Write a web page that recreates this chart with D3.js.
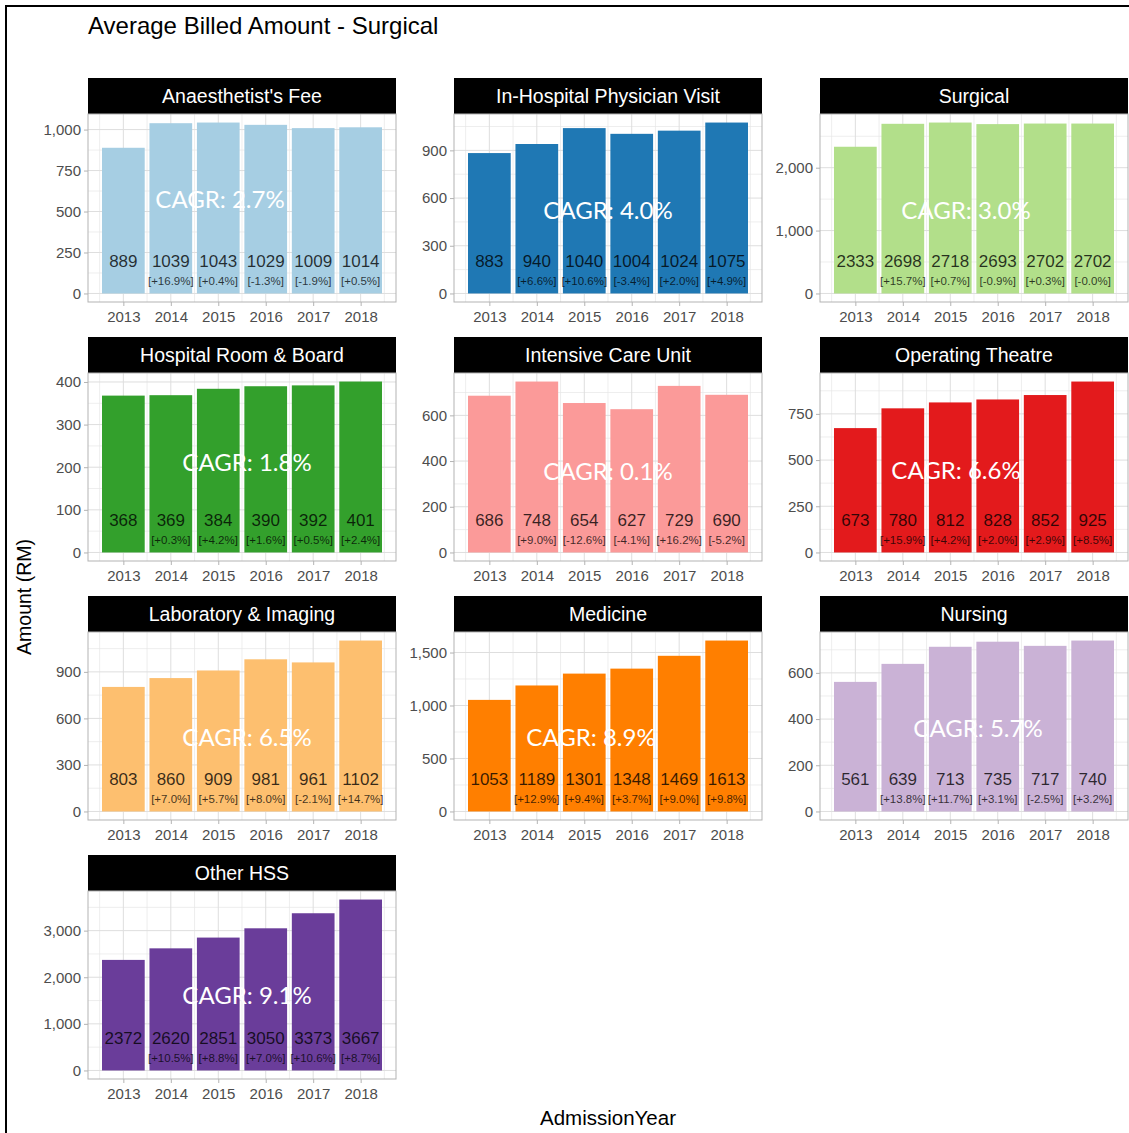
<!DOCTYPE html>
<html>
<head>
<meta charset="utf-8">
<script src="https://cdn.jsdelivr.net/npm/d3@7"></script>
<style>
  body { margin: 0; background: #fff; }
  text { font-family: "Liberation Sans", Arial, sans-serif; }
  text.cagr { font-family: Lato, "Open Sans", sans-serif; }
</style>
</head>
<body>
<div class="facets"></div>
<script>
var svgWidth = 1129;
var svgHeight = 1133;

var years = [2013, 2014, 2015, 2016, 2017, 2018];

var categories = [
  "Anaesthetist's Fee", "In-Hospital Physician Visit", "Surgical",
  "Hospital Room & Board", "Intensive Care Unit", "Operating Theatre",
  "Laboratory & Imaging", "Medicine", "Nursing",
  "Other HSS"
];

var amounts = [
  [889, 1039, 1043, 1029, 1009, 1014],
  [883, 940, 1040, 1004, 1024, 1075],
  [2333, 2698, 2718, 2693, 2702, 2702],
  [368, 369, 384, 390, 392, 401],
  [686, 748, 654, 627, 729, 690],
  [673, 780, 812, 828, 852, 925],
  [803, 860, 909, 981, 961, 1102],
  [1053, 1189, 1301, 1348, 1469, 1613],
  [561, 639, 713, 735, 717, 740],
  [2372, 2620, 2851, 3050, 3373, 3667]
];

var growth = [
  ["", "+16.9%", "+0.4%", "-1.3%", "-1.9%", "+0.5%"],
  ["", "+6.6%", "+10.6%", "-3.4%", "+2.0%", "+4.9%"],
  ["", "+15.7%", "+0.7%", "-0.9%", "+0.3%", "-0.0%"],
  ["", "+0.3%", "+4.2%", "+1.6%", "+0.5%", "+2.4%"],
  ["", "+9.0%", "-12.6%", "-4.1%", "+16.2%", "-5.2%"],
  ["", "+15.9%", "+4.2%", "+2.0%", "+2.9%", "+8.5%"],
  ["", "+7.0%", "+5.7%", "+8.0%", "-2.1%", "+14.7%"],
  ["", "+12.9%", "+9.4%", "+3.7%", "+9.0%", "+9.8%"],
  ["", "+13.8%", "+11.7%", "+3.1%", "-2.5%", "+3.2%"],
  ["", "+10.5%", "+8.8%", "+7.0%", "+10.6%", "+8.7%"]
];

var cagr = ["2.7%", "4.0%", "3.0%", "1.8%", "0.1%", "6.6%", "6.5%", "8.9%", "5.7%", "9.1%"];

var yTicks = [
  [0, 250, 500, 750, 1000],
  [0, 300, 600, 900],
  [0, 1000, 2000],
  [0, 100, 200, 300, 400],
  [0, 200, 400, 600],
  [0, 250, 500, 750],
  [0, 300, 600, 900],
  [0, 500, 1000, 1500],
  [0, 200, 400, 600],
  [0, 1000, 2000, 3000]
];

var colors = ["#a6cee3", "#1f78b4", "#b2df8a", "#33a02c", "#fb9a99",
              "#e31a1c", "#fdbf6f", "#ff7f00", "#cab2d6", "#6a3d9a"];

// where the pasted-on CAGR text sits, relative to panel centre / strip top
var cagrOffset = [[-22, 121], [0, 132], [-8, 132], [5, 125], [0, 134],
                  [-18, 133], [5, 141], [-17, 141], [4, 132], [5, 140]];

var colX = [88, 454, 820];
var rowY = [78, 337, 596, 855];
var panelW = 308;
var stripH = 36;
var plotH = 188;

var svg = d3.select(".facets")
  .append("svg")
  .attr("width", svgWidth)
  .attr("height", svgHeight);

svg.append("rect")
  .attr("x", 6).attr("y", 6)
  .attr("width", 1140).attr("height", 1140)
  .attr("fill", "none")
  .attr("stroke", "#000")
  .attr("stroke-width", 2);

svg.append("text")
  .attr("x", 88).attr("y", 34)
  .attr("font-size", "24px")
  .attr("fill", "#000")
  .text("Average Billed Amount - Surgical");

var xScale = d3.scaleLinear()
  .domain([2012.255, 2018.745])
  .range([0, panelW]);
var barW = xScale(2013.45) - xScale(2012.55);
var xMinor = d3.range(2012.5, 2019, 1);

var fmt = d3.format(",");

categories.forEach(function(cat, i) {
  var px = colX[i % 3];
  var py = rowY[Math.floor(i / 3)];
  var vals = amounts[i];
  var vmax = d3.max(vals);

  var yScale = d3.scaleLinear()
    .domain([-0.05 * vmax, 1.05 * vmax])
    .range([plotH, 0]);

  var ticks = yTicks[i];
  var step = ticks[1] - ticks[0];
  var yMinor = d3.range(ticks[0] - step / 2, 1.05 * vmax, step)
    .filter(function(v) { return v > -0.05 * vmax; });

  // strip
  svg.append("rect")
    .attr("x", px).attr("y", py)
    .attr("width", panelW).attr("height", stripH)
    .attr("fill", "#000");
  svg.append("text")
    .attr("x", px + panelW / 2).attr("y", py + stripH / 2 + 7)
    .attr("text-anchor", "middle")
    .attr("font-size", "19.5px")
    .attr("fill", "#fff")
    .text(cat);

  var g = svg.append("g")
    .attr("transform", `translate(${px}, ${py + stripH})`);

  g.append("rect")
    .attr("width", panelW).attr("height", plotH)
    .attr("fill", "#fff");

  // grid
  g.selectAll(".yminor").data(yMinor).enter().append("line")
    .attr("x1", 0).attr("x2", panelW)
    .attr("y1", d => yScale(d)).attr("y2", d => yScale(d))
    .attr("stroke", "#e6e6e6").attr("stroke-width", 0.7);
  g.selectAll(".xminor").data(xMinor).enter().append("line")
    .attr("y1", 0).attr("y2", plotH)
    .attr("x1", d => xScale(d)).attr("x2", d => xScale(d))
    .attr("stroke", "#e6e6e6").attr("stroke-width", 0.7);
  g.selectAll(".ymajor").data(ticks).enter().append("line")
    .attr("x1", 0).attr("x2", panelW)
    .attr("y1", d => yScale(d)).attr("y2", d => yScale(d))
    .attr("stroke", "#dedede").attr("stroke-width", 1);
  g.selectAll(".xmajor").data(years).enter().append("line")
    .attr("y1", 0).attr("y2", plotH)
    .attr("x1", d => xScale(d)).attr("x2", d => xScale(d))
    .attr("stroke", "#dedede").attr("stroke-width", 1);

  // bars
  g.selectAll(".bar").data(vals).enter().append("rect")
    .attr("x", (d, j) => xScale(years[j]) - barW / 2)
    .attr("y", d => yScale(d))
    .attr("width", barW)
    .attr("height", d => yScale(0) - yScale(d))
    .attr("fill", colors[i]);

  // value labels
  g.selectAll(".val").data(vals).enter().append("text")
    .attr("x", (d, j) => xScale(years[j]))
    .attr("y", yScale(0) - 26)
    .attr("text-anchor", "middle")
    .attr("font-size", "17px")
    .attr("fill", "#000")
    .attr("fill-opacity", 0.78)
    .text(d => d);

  g.selectAll(".pct").data(growth[i]).enter().append("text")
    .attr("x", (d, j) => xScale(years[j]))
    .attr("y", yScale(0) - 8)
    .attr("text-anchor", "middle")
    .attr("font-size", "11.5px")
    .attr("fill", "#000")
    .attr("fill-opacity", 0.75)
    .text(d => d ? "[" + d + "]" : "");

  g.append("rect")
    .attr("width", panelW).attr("height", plotH)
    .attr("fill", "none")
    .attr("stroke", "#b3b3b3").attr("stroke-width", 1);

  // axes
  var leftAxis = d3.axisLeft(yScale)
    .tickValues(ticks)
    .tickFormat(fmt)
    .tickSize(4)
    .tickPadding(3);
  var bottomAxis = d3.axisBottom(xScale)
    .tickValues(years)
    .tickFormat(d3.format("d"))
    .tickSize(4)
    .tickPadding(5);

  var ya = g.append("g").call(leftAxis);
  var xa = g.append("g").attr("transform", `translate(0, ${plotH})`).call(bottomAxis);
  [ya, xa].forEach(function(a) {
    a.select(".domain").remove();
    a.selectAll("line").attr("stroke", "#b3b3b3");
    a.selectAll("text")
      .attr("fill", "#4d4d4d")
      .attr("font-size", "15px");
  });

  // CAGR overlay
  svg.append("text")
    .attr("class", "cagr")
    .attr("x", px + panelW / 2 + cagrOffset[i][0])
    .attr("y", py + cagrOffset[i][1] + 9)
    .attr("text-anchor", "middle")
    .attr("font-size", "24px")
    .attr("fill", "#fff")
    .text("CAGR: " + cagr[i]);
});

svg.append("text")
  .attr("x", 608).attr("y", 1125)
  .attr("text-anchor", "middle")
  .attr("font-size", "20.5px")
  .attr("fill", "#000")
  .text("AdmissionYear");

svg.append("text")
  .attr("transform", "translate(31, 597) rotate(-90)")
  .attr("text-anchor", "middle")
  .attr("font-size", "19.5px")
  .attr("fill", "#000")
  .text("Amount (RM)");
</script>
</body>
</html>
